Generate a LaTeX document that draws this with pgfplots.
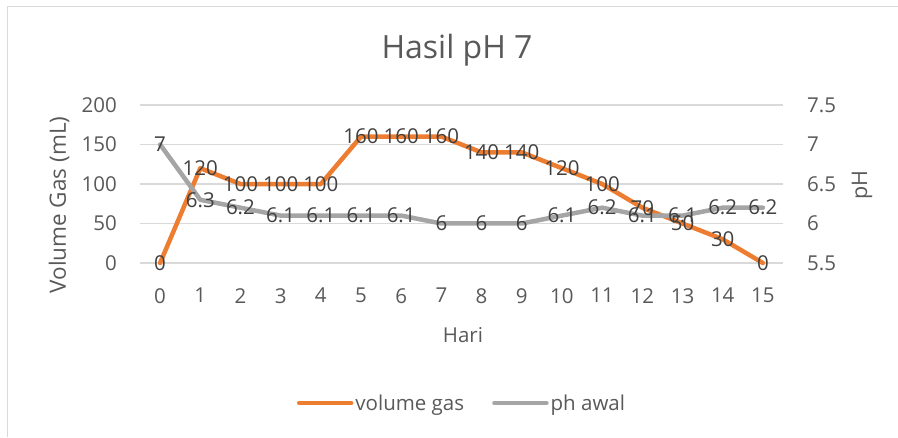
\documentclass[border=0pt]{standalone}
\usepackage{fontspec}
\setmainfont{Open Sans}
\usepackage{pgfplots}
\pgfplotsset{compat=1.18}
\definecolor{xlorange}{HTML}{ED7D31}
\definecolor{xlgrey}{HTML}{A5A5A5}
\definecolor{xlgrid}{HTML}{D9D9D9}
\definecolor{xltext}{HTML}{595959}
\definecolor{xllabel}{HTML}{404040}
\newcommand{\fsz}[1]{\fontsize{#1}{#1}\selectfont}

\pgfplotsset{
  /pgf/number format/assume math mode=true,
  xlbase/.style={
    at={(140pt,174pt)}, anchor=south west,
    scale only axis, width=643pt, height=158pt,
    xmin=-0.5, xmax=15.5, xtick={0,...,15},
    clip=false, major tick length=0pt,
    axis line style={draw=none},
    tick label style={font=\fsz{20.5}, text=xltext, inner sep=0pt},
  },
  datalbl/.style={nodes near coords,
    every node near coord/.append style={anchor=center, font=\fsz{20.5},
      text=xllabel, inner sep=0pt}},
}

\begin{document}
\begin{tikzpicture}[x=1pt,y=1pt]
\path[use as bounding box] (0,0) rectangle (898,437);
\draw[xlgrid, line width=1pt] (7,0) -- (7,430) -- (898,430);

% left axis: volume gas
\begin{axis}[xlbase,
  ymin=0, ymax=200, ytick={0,50,...,200},
  ymajorgrids, grid style={xlgrid, line width=1.3pt},
  yticklabel style={anchor=east, xshift=-23pt},
  xticklabel style={anchor=north, yshift=-25pt},
]
\addplot[xlorange, line width=4.5pt, line join=round, line cap=round] coordinates {
  (0,0) (1,120) (2,100) (3,100) (4,100) (5,160) (6,160) (7,160)
  (8,140) (9,140) (10,120) (11,100) (12,70) (13,50) (14,30) (15,0)};
\end{axis}

% right axis: pH
\begin{axis}[xlbase,
  ymin=5.5, ymax=7.5, ytick={5.5,6,...,7.5},
  axis y line*=right, axis x line=none,
  yticklabel style={anchor=west, xshift=24pt,
    /pgf/number format/fixed, /pgf/number format/precision=1},
]
\addplot[xlgrey, line width=4.5pt, line join=round, line cap=round, datalbl] coordinates {
  (0,7) (1,6.3) (2,6.2) (3,6.1) (4,6.1) (5,6.1) (6,6.1) (7,6)
  (8,6) (9,6) (10,6.1) (11,6.2) (12,6.1) (13,6.1) (14,6.2) (15,6.2)};
\end{axis}

% labels of volume gas on top, and the legend
\begin{axis}[xlbase, hide axis,
  ymin=0, ymax=200,
  legend style={at={(0.5008,-0.886)}, anchor=center, draw=none, fill=none,
    font=\fsz{20.5}, text=xltext, legend columns=2,
    /tikz/every even column/.append style={column sep=26pt},
    legend cell align=left, inner sep=0pt},
  legend image code/.code={\draw[#1] (0pt,0pt) -- (52pt,0pt);},
]
\addplot[draw=none, datalbl, forget plot] coordinates {
  (0,0) (1,120) (2,100) (3,100) (4,100) (5,160) (6,160) (7,160)
  (8,140) (9,140) (10,120) (11,100) (12,70) (13,50) (14,30) (15,0)};
\addlegendimage{xlorange, line width=4.5pt, line cap=round}
\addlegendentry{volume gas}
\addlegendimage{xlgrey, line width=4.5pt, line cap=round}
\addlegendentry{ph awal}
\end{axis}

\node[font=\fsz{32}, text=xltext] at (457,387) {Hasil pH 7};
\node[font=\fsz{22.5}, text=xltext, rotate=90] at (59,232) {Volume Gas (mL)};
\node[font=\fsz{21.5}, text=xltext, rotate=90] at (862,252) {pH};
\node[font=\fsz{20.5}, text=xltext] at (463,102) {Hari};
\end{tikzpicture}
\end{document}
